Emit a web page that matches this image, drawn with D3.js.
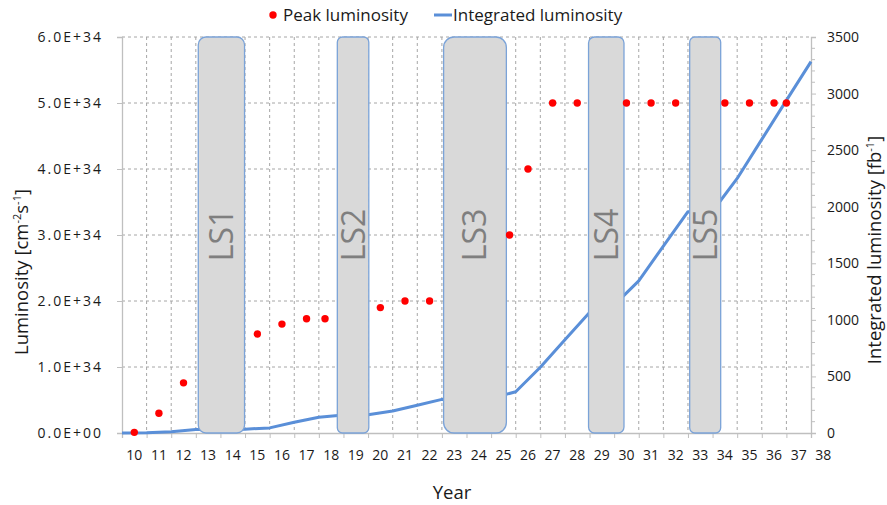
<!DOCTYPE html>
<html>
<head>
<meta charset="utf-8">
<script src="https://cdn.jsdelivr.net/npm/d3@7"></script>
<style>
  body { margin: 0; background: #fff; }
  text { font-family: "Open Sans", sans-serif; fill: #1a1a1a; }
</style>
</head>
<body>
<div id="chart"></div>
<script>
// peak luminosity points (year, cm-2 s-1)
const peakYears = [10, 11, 12, 15, 16, 17, 17.75, 20, 21, 22, 25.25, 26, 27, 28, 30, 31, 32, 34, 35, 36, 36.5];
const peakLumi = [0.01e34, 0.3e34, 0.76e34, 1.5e34, 1.65e34, 1.73e34, 1.73e34, 1.9e34, 2.0e34, 2.0e34,
  3.0e34, 4.0e34, 5.0e34, 5.0e34, 5.0e34, 5.0e34, 5.0e34, 5.0e34, 5.0e34, 5.0e34, 5.0e34];

// integrated luminosity (year, fb-1)
const intYears = [9.5, 10.5, 11.5, 12.5, 13.5, 14.5, 15.5, 16.5, 17.5, 18.5, 19.5, 20.5, 21.5, 22.5, 23.5,
  24.5, 25.5, 26.5, 27.5, 28.5, 29.5, 30.5, 31.5, 32.5, 33.5, 34.5, 35.5, 36.5, 37.5];
const intLumi = [0, 2, 11, 30, 32, 34, 45, 95, 140, 160, 162, 194, 246, 297, 300,
  305, 365, 581, 824, 1065, 1130, 1345, 1652, 1956, 1960, 2250, 2595, 2940, 3282];

// long shutdowns
const lsNames = ['LS1', 'LS2', 'LS3', 'LS4', 'LS5'];
const lsStart = [12.6, 18.25, 22.57, 28.46, 32.57];
const lsEnd = [14.48, 19.53, 25.12, 29.9, 33.83];

const yearLabels = d3.range(10, 39);
const leftTicks = [0, 1e34, 2e34, 3e34, 4e34, 5e34, 6e34];
const rightTicks = [0, 500, 1000, 1500, 2000, 2500, 3000, 3500];

const width = 887, height = 505;
const svg = d3.select('#chart').append('svg')
  .attr('width', width)
  .attr('height', height);

const x = d3.scaleLinear().domain([9.5, 37.5]).range([122, 811]);
const yL = d3.scaleLinear().domain([0, 6e34]).range([433, 37]);
const yR = d3.scaleLinear().domain([0, 3500]).range([433, 37]);

const gridColor = '#a6a6a6';
const axisColor = '#bfbfbf';

// vertical dashed grid
const gridX = d3.range(10.5, 37.5, 1);
svg.append('g').selectAll('line')
  .data(gridX)
  .enter().append('line')
  .attr('x1', (d) => x(d)).attr('x2', (d) => x(d))
  .attr('y1', yL(6e34)).attr('y2', yL(0))
  .attr('stroke', gridColor)
  .attr('stroke-width', 1)
  .attr('stroke-dasharray', '3,3');

// horizontal dashed grid
svg.append('g').selectAll('line')
  .data(leftTicks.slice(1))
  .enter().append('line')
  .attr('x1', x(9.5)).attr('x2', x(37.5))
  .attr('y1', (d) => yL(d)).attr('y2', (d) => yL(d))
  .attr('stroke', gridColor)
  .attr('stroke-width', 1)
  .attr('stroke-dasharray', '3,3');

// axes
const xAxis = d3.axisBottom(x)
  .tickValues(d3.range(9.5, 38, 1))
  .tickSize(5)
  .tickFormat('');
const gx = svg.append('g').attr('transform', 'translate(0,' + yL(0) + ')').call(xAxis);
gx.select('.domain').attr('stroke', axisColor).attr('stroke-width', 1.3);
gx.selectAll('.tick line').attr('stroke', axisColor);

svg.append('g').selectAll('text')
  .data(yearLabels)
  .enter().append('text')
  .attr('x', (d) => x(d))
  .attr('y', 460)
  .attr('text-anchor', 'middle')
  .style('font-size', '14px')
  .text((d) => d);

const leftAxis = d3.axisLeft(yL)
  .tickValues(leftTicks)
  .tickSize(5)
  .tickPadding(14)
  .tickFormat((d) => d3.format('.1e')(d).toUpperCase().replace('E+', 'E+').replace(/E\+(\d)$/, 'E+0$1'));
const gl = svg.append('g').attr('transform', 'translate(' + x(9.5) + ',0)').call(leftAxis);
gl.select('.domain').attr('stroke', axisColor).attr('stroke-width', 1.3);
gl.selectAll('.tick line').attr('stroke', axisColor);
gl.selectAll('.tick text')
  .style('font-size', '14px')
  .style('letter-spacing', '2px')
  .style('font-family', '"Open Sans", sans-serif')
  .attr('fill', '#1a1a1a');

const rightAxis = d3.axisRight(yR)
  .tickValues(rightTicks)
  .tickSize(5)
  .tickPadding(11)
  .tickFormat(d3.format('d'));
const gr = svg.append('g').attr('transform', 'translate(' + x(37.5) + ',0)').call(rightAxis);
gr.select('.domain').attr('stroke', axisColor).attr('stroke-width', 1.3);
gr.selectAll('.tick line').attr('stroke', axisColor);
gr.selectAll('.tick text')
  .style('font-size', '14px')
  .style('font-family', '"Open Sans", sans-serif')
  .attr('fill', '#1a1a1a');

// minor ticks on right axis
svg.append('g').selectAll('line')
  .data(d3.range(100, 3500, 100).filter((d) => d % 500 !== 0))
  .enter().append('line')
  .attr('x1', x(37.5)).attr('x2', x(37.5) + 4)
  .attr('y1', (d) => yR(d)).attr('y2', (d) => yR(d))
  .attr('stroke', axisColor);

// integrated luminosity line
const line = d3.line()
  .x((d, i) => x(intYears[i]))
  .y((d) => yR(d));
svg.append('path')
  .datum(intLumi)
  .attr('d', line)
  .attr('fill', 'none')
  .attr('stroke', '#5a8fd8')
  .attr('stroke-width', 3)
  .attr('stroke-linejoin', 'round');

// shutdown boxes
const ls = svg.append('g').selectAll('g')
  .data(lsNames)
  .enter().append('g');
ls.append('rect')
  .attr('x', (d, i) => x(lsStart[i]))
  .attr('y', yL(6e34))
  .attr('width', (d, i) => x(lsEnd[i]) - x(lsStart[i]))
  .attr('height', yL(0) - yL(6e34))
  .attr('rx', (d, i) => (x(lsEnd[i]) - x(lsStart[i])) / 6)
  .attr('fill', '#d9d9d9')
  .attr('stroke', '#7ba3d8')
  .attr('stroke-width', 1.3);
ls.append('text')
  .attr('transform', (d, i) => 'translate(' + ((x(lsStart[i]) + x(lsEnd[i])) / 2 + 11.5) + ',' + yL(3e34) + ')rotate(-90)')
  .attr('text-anchor', 'middle')
  .style('font-size', '32px')
  .style('fill', '#7f7f7f')
  .text((d) => d);

// peak luminosity dots
svg.append('g').selectAll('circle')
  .data(peakLumi)
  .enter().append('circle')
  .attr('cx', (d, i) => x(peakYears[i]))
  .attr('cy', (d) => yL(d))
  .attr('r', 3.7)
  .attr('fill', '#ff0000');

// axis titles
const lt = svg.append('text')
  .attr('transform', 'translate(28,272)rotate(-90)')
  .attr('text-anchor', 'middle')
  .style('font-size', '18.5px');
lt.append('tspan').text('Luminosity [cm');
lt.append('tspan').attr('dy', -7).style('font-size', '11px').text('-2');
lt.append('tspan').attr('dy', 7).text('s');
lt.append('tspan').attr('dy', -7).style('font-size', '11px').text('-1');
lt.append('tspan').attr('dy', 7).text(']');

const rt = svg.append('text')
  .attr('transform', 'translate(881,250)rotate(-90)')
  .attr('text-anchor', 'middle')
  .style('font-size', '18.5px');
rt.append('tspan').text('Integrated luminosity [fb');
rt.append('tspan').attr('dy', -7).style('font-size', '11px').text('-1');
rt.append('tspan').attr('dy', 7).text(']');

svg.append('text')
  .attr('x', 452)
  .attr('y', 499)
  .attr('text-anchor', 'middle')
  .style('font-size', '18.5px')
  .text('Year');

// legend
svg.append('circle').attr('cx', 273).attr('cy', 15).attr('r', 3.7).attr('fill', '#ff0000');
svg.append('text').attr('x', 283).attr('y', 21).style('font-size', '17px').text('Peak luminosity');
svg.append('line')
  .attr('x1', 434).attr('x2', 452).attr('y1', 15).attr('y2', 15)
  .attr('stroke', '#5a8fd8').attr('stroke-width', 3);
svg.append('text').attr('x', 453).attr('y', 21).style('font-size', '17px').text('Integrated luminosity');
</script>
</body>
</html>
